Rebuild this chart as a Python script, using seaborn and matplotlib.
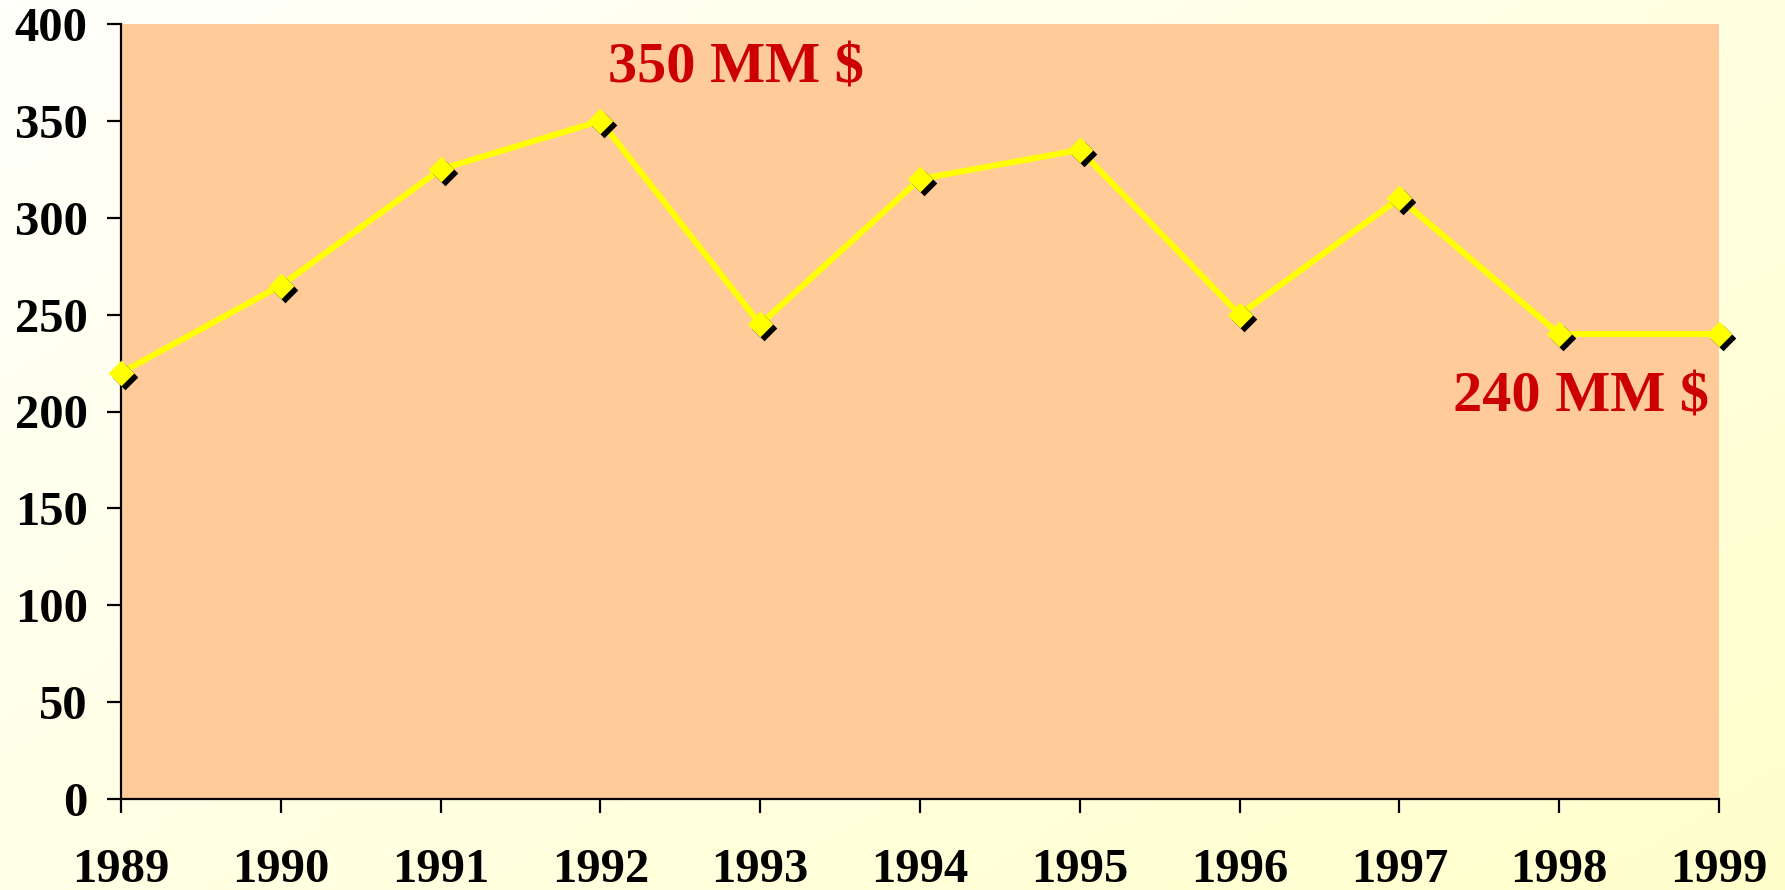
import numpy as np
import pandas as pd
import matplotlib
matplotlib.use('Agg')
import matplotlib.pyplot as plt
import matplotlib.transforms as mtransforms
import seaborn as sns

# values
years = [1989, 1990, 1991, 1992, 1993, 1994, 1995, 1996, 1997, 1998, 1999]
values = [220, 265, 325, 350, 245, 320, 335, 250, 310, 240, 240]
y_ticks = [0, 50, 100, 150, 200, 250, 300, 350, 400]
label_peak = '350 MM $'
label_last = '240 MM $'

df = pd.DataFrame({'Year': years, 'Value': values})

sns.set_style('white')
plt.rcParams['font.family'] = ['Liberation Serif', 'DejaVu Serif']
plt.rcParams['font.weight'] = 'bold'

fig = plt.figure(figsize=(17.85, 8.9), dpi=100)

# diagonal gradient background: white top-left to pale yellow bottom-right
bg = fig.add_axes([0, 0, 1, 1], zorder=-10)
gx, gy = np.meshgrid(np.linspace(0, 1, 200), np.linspace(0, 1, 100))
grad = np.clip(0.55 * gx + 0.45 * gy, 0, 1)
c0 = np.array([1.0, 1.0, 0.985])
c1 = np.array([1.0, 1.0, 0.80])
img = c0[None, None, :] * (1 - grad[..., None]) + c1[None, None, :] * grad[..., None]
bg.imshow(img, aspect='auto', extent=[0, 1, 0, 1], origin='upper')
bg.axis('off')

ax = fig.add_axes([121 / 1785, 1 - 799 / 890, (1719 - 121) / 1785, (799 - 24) / 890])
ax.set_facecolor('#FFCC99')

sns.lineplot(data=df, x='Year', y='Value', ax=ax, color='#FFFF00', linewidth=4.3,
             zorder=3, clip_on=False)

# marker shadow, then yellow diamonds
sns.scatterplot(data=df, x='Year', y='Value', ax=ax, marker='D', s=170,
                color='black', linewidth=0, zorder=4, clip_on=False)
ax.collections[-1].set_offset_transform(
    mtransforms.offset_copy(ax.transData, fig=fig, x=4, y=-4, units='dots'))
sns.scatterplot(data=df, x='Year', y='Value', ax=ax, marker='D', s=170,
                color='#FFFF00', linewidth=0, zorder=5, clip_on=False)

ax.set_xlim(years[0], years[-1])
ax.set_ylim(y_ticks[0], y_ticks[-1])
ax.set_xticks(years)
ax.set_yticks(y_ticks)
ax.set_xticklabels([str(y) for y in years], fontsize=35, fontweight='bold', color='black')
ax.set_yticklabels([str(v) for v in y_ticks], fontsize=35, fontweight='bold', color='black')
ax.set_xlabel('')
ax.set_ylabel('')

for side in ['top', 'right']:
    ax.spines[side].set_visible(False)
for side in ['left', 'bottom']:
    ax.spines[side].set_color('black')
    ax.spines[side].set_linewidth(1.6)
ax.tick_params(axis='both', direction='out', length=10, width=1.6, color='black',
               bottom=True, left=True)
ax.tick_params(axis='x', pad=25)
ax.tick_params(axis='y', pad=14)

peak_i = values.index(max(values))
ax.text(years[peak_i] + 0.05, 377, label_peak, color='#CC0000', fontsize=42,
        fontweight='bold', ha='left', va='center')
ax.text(years[-1] - 0.06, 207, label_last, color='#CC0000', fontsize=42,
        fontweight='bold', ha='right', va='center')

fig.savefig('out.png', dpi=100)
